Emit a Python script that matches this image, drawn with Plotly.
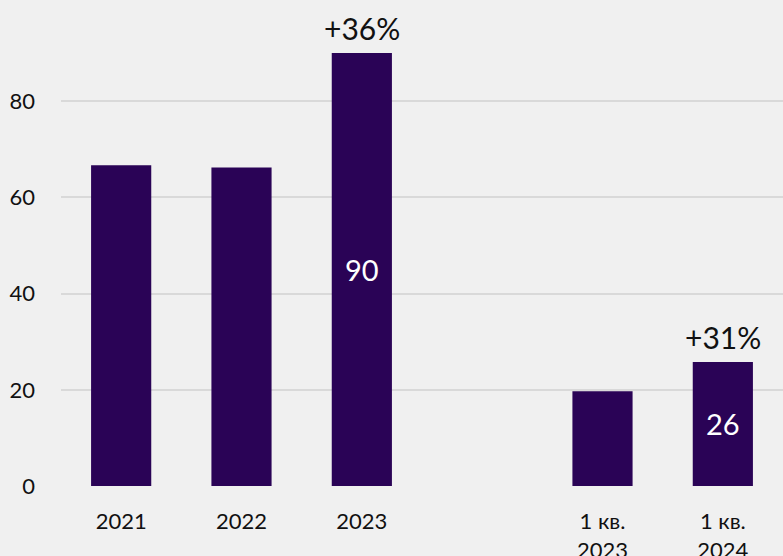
import plotly.graph_objects as go

# categories (blank slot separates annual and quarterly groups)
categories = ["2021", "2022", "2023", "gap", "1 кв. 2023", "1 кв. 2024"]
tick_labels = ["2021", "2022", "2023", "", "1 кв.<br>2023", "1 кв.<br>2024"]
values = [66.7, 66.2, 90, None, 19.7, 25.8]
bar_labels = ["", "", "90", "", "", "26"]
growth_cats = ["2023", "1 кв. 2024"]
growth_vals = [90, 25.8]
growth_text = ["+36%", "+31%"]
y_ticks = [0, 20, 40, 60, 80]

BG = "#f0f0f0"
BAR = "#2a0356"
FONT = "Lato, 'Noto Sans', sans-serif"

fig = go.Figure(
    go.Bar(
        x=categories,
        y=values,
        width=0.5,
        marker={"color": BAR, "line": {"width": 0}},
        text=bar_labels,
        textposition="inside",
        insidetextanchor="middle",
        textangle=0,
        textfont={"color": "white", "size": 29, "family": FONT},
        hoverinfo="skip",
    )
)

# annotations on a category axis are placed by category index
for cat, val, txt in zip(growth_cats, growth_vals, growth_text):
    fig.add_annotation(
        x=categories.index(cat), y=val, text=txt, showarrow=False,
        xref="x", yref="y", yanchor="bottom", yshift=5,
        font={"size": 30, "color": "#111111", "family": FONT},
    )

fig.update_layout(
    width=783,
    height=556,
    paper_bgcolor=BG,
    plot_bgcolor=BG,
    margin={"l": 61, "r": 0, "t": 5, "b": 70},
    showlegend=False,
    font={"family": FONT, "color": "#111111", "size": 22},
    uniformtext={"mode": "show", "minsize": 10},
    xaxis={
        "type": "category",
        "categoryorder": "array",
        "categoryarray": categories,
        "range": [-0.5, len(categories) - 0.5],
        "tickvals": categories,
        "ticktext": tick_labels,
        "automargin": False,
        "showgrid": False,
        "zeroline": False,
        "showline": False,
        "ticks": "",
        "ticklabelstandoff": 20,
        "tickfont": {"size": 22},
    },
    yaxis={
        "range": [0, 100],
        "tickvals": y_ticks,
        "automargin": False,
        "showgrid": True,
        "gridcolor": "#d9d9d9",
        "gridwidth": 1.5,
        "zeroline": False,
        "showline": False,
        "ticks": "",
        "ticklabelstandoff": 25,
        "tickfont": {"size": 22},
    },
)

# drop the default page margin so the chart sits at the window corner
fig.write_html(
    "out.html",
    config={"displayModeBar": False},
    post_script="document.body.style.margin = '0';",
)
